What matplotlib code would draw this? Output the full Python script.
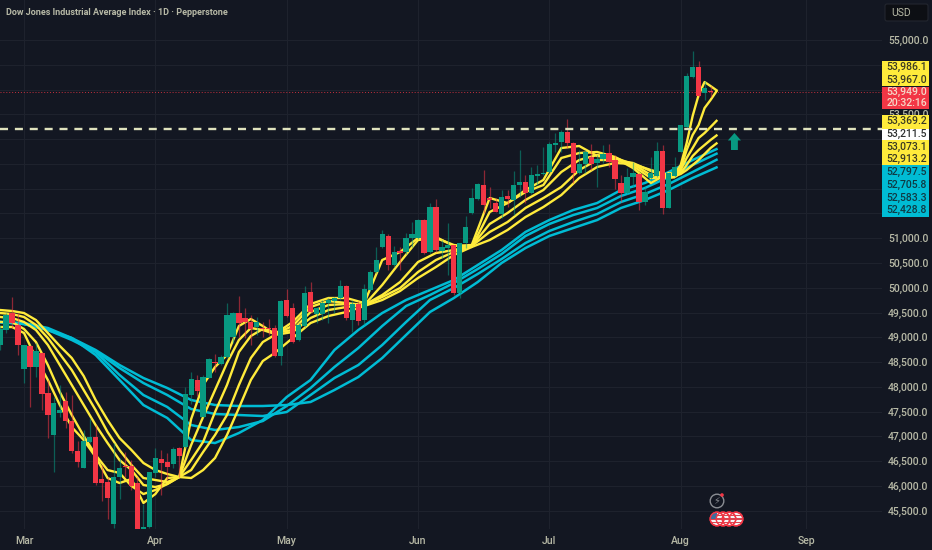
import numpy as np
import matplotlib
matplotlib.use('Agg')
import matplotlib.pyplot as plt
from matplotlib.patches import Circle, Rectangle, FancyBboxPatch

plt.rcParams['font.family'] = ['Roboto', 'DejaVu Sans']

# daily candles, first bar is 4 sessions before 1 March
first_bar = -4
opens = [48845, 49148, 49490, 49250, 48360, 48825, 48400, 48684, 47876, 47029, 47473, 47715, 47311, 46706, 46363, 46888,
         46989, 46141, 46080, 45233, 46181, 46403, 46403, 46060, 45132, 45172, 46262, 46545, 46484, 46444, 46766, 46787,
         47836, 48139, 47392, 48179, 48502, 48461, 48603, 49006, 49490, 49390, 49309, 49208, 49188, 49188, 49188, 48623,
         49753, 49591, 48946, 49229, 49914, 49470, 49470, 49692, 49733, 49793, 50036, 49349, 49672, 49349, 49955, 50318,
         50823, 51045, 50459, 50742, 50722, 51004, 51004, 51367, 50722, 51630, 50742, 50802, 50863, 49894, 50903, 51509,
         51791, 52074, 51811, 51710, 51488, 51852, 51771, 52074, 52134, 51912, 52255, 52296, 52336, 52881, 52941, 53143,
         52921, 52316, 52498, 52639, 52518, 52598, 52719, 52578, 52114, 51912, 52235, 52296, 51730, 52215, 52255, 52760,
         51610, 52255, 52740, 53245, 54253, 54455, 53930, 53971]
highs = [49250, 49490, 49813, 49490, 48845, 48845, 48885, 48704, 48139, 47795, 48038, 47896, 47836, 46908, 47130, 47372,
         47230, 46423, 46181, 46867, 46565, 46686, 46524, 46181, 45636, 46282, 46766, 46726, 46665, 46787, 46787, 47997,
         48300, 48240, 48240, 48582, 48663, 48643, 49692, 49511, 49834, 49591, 49450, 49410, 49309, 49370, 49249, 49753,
         49975, 49692, 49289, 50036, 50116, 49612, 49753, 49793, 49813, 50157, 50056, 49753, 49733, 50076, 50358, 50823,
         51166, 51085, 50843, 50823, 51105, 51327, 51388, 51388, 51710, 51791, 50964, 51307, 50863, 50903, 51448, 52013,
         52114, 52376, 52033, 51811, 51973, 51973, 52356, 52780, 52276, 52437, 52477, 52841, 52941, 53123, 53184, 53406,
         52941, 52780, 52780, 52901, 52679, 52881, 52901, 52679, 52276, 52417, 52538, 52316, 52033, 52639, 52941, 52881,
         52336, 52639, 53285, 54334, 54778, 54576, 54172, 54072]
lows = [48745, 49087, 49188, 48643, 48078, 47594, 48200, 47533, 46968, 46282, 47392, 47170, 46665, 46383, 46363, 46867,
        46020, 45697, 45334, 45152, 45737, 46181, 45919, 45132, 45132, 45152, 46181, 45818, 46121, 46363, 46181, 46766,
        47654, 47816, 47392, 48179, 48300, 48441, 48582, 48885, 49006, 48986, 48845, 49047, 49006, 49047, 48603, 48441,
        49410, 48885, 48926, 49208, 49490, 49289, 49349, 49289, 49490, 49753, 49349, 49107, 49249, 49249, 49935, 50298,
        50802, 50358, 50419, 50358, 50681, 50823, 50984, 50681, 50701, 50722, 50601, 50258, 49854, 49793, 50802, 51488,
        51771, 51509, 51610, 51529, 51408, 51630, 51468, 51832, 51710, 51892, 52074, 52276, 52316, 52740, 52740, 52820,
        52114, 52296, 52316, 52376, 52033, 52518, 52437, 51993, 51730, 51892, 52033, 51569, 51670, 52175, 52235, 51488,
        51610, 52235, 52740, 53224, 54233, 53850, 53789, 53850]
closes = [49170, 49450, 49290, 48845, 48845, 48400, 48724, 47856, 47432, 47674, 47533, 47311, 46706, 46484, 46908, 46989,
          46060, 46060, 45757, 46181, 46363, 46383, 46000, 45132, 45172, 46282, 46565, 46464, 46383, 46746, 46605, 47856,
          48159, 47917, 48200, 48562, 48482, 48603, 49450, 49490, 49290, 49309, 49168, 49309, 49168, 49168, 48623, 49733,
          49430, 48905, 49249, 49894, 49511, 49591, 49692, 49753, 49793, 50036, 49390, 49672, 49329, 49975, 50318, 50560,
          51085, 50459, 50722, 50701, 51004, 51085, 51367, 50701, 51630, 50762, 50823, 50863, 49894, 50903, 51226, 51811,
          52094, 51670, 51771, 51529, 51832, 51791, 52074, 52134, 51912, 52276, 52296, 52316, 52901, 52921, 53143, 52921,
          52316, 52498, 52740, 52498, 52598, 52699, 52538, 52195, 51912, 52235, 52316, 51730, 51932, 52316, 52760, 51610,
          52316, 52437, 53285, 54273, 54455, 53870, 54031, 53950]

# yellow (fast) averages, read at these bars
fast_bars = list(range(-4, 44, 2)) + list(range(45, 108, 3)) + [108, 109, 110, 111, 112, 113, 114, 115, 116]
fast1 = [49208, 49208, 49087, 48583, 48139, 47634, 47190, 46928, 46585, 46161, 46060, 46141, 45657, 45838, 46161, 46181,
         47352, 48038, 48401, 48643, 49228, 49370, 49228, 49067, 49309, 49672, 49793, 49793, 49692, 50560, 50722, 51004,
         51024, 50843, 50863, 51811, 51710, 51973, 52175, 52820, 52861, 52659, 52619, 52417, 52114, 52316, 52296, 52477,
         52921, 53466, 53890, 54152, 54071, 53986]
fast2 = [49309, 49309, 49168, 48905, 48441, 47896, 47432, 47009, 46625, 46322, 46262, 46000, 45838, 45919, 46040, 46181,
         46827, 47392, 47937, 48482, 48946, 49188, 49148, 49067, 49228, 49612, 49733, 49692, 49652, 50056, 50520, 50964,
         51004, 50863, 50823, 51529, 51710, 51932, 52074, 52619, 52719, 52740, 52639, 52457, 52215, 52235, 52235, 52417,
         52780, 53083, 53285, 53628, 53789, 53967]
fast3 = [49410, 49390, 49309, 49148, 48845, 48441, 48038, 47634, 47230, 46867, 46524, 46322, 46020, 45979, 46040, 46181,
         46524, 46888, 47493, 48038, 48704, 49027, 49168, 49087, 49148, 49511, 49652, 49672, 49652, 49854, 50116, 50520,
         50701, 50762, 50843, 51287, 51509, 51771, 51973, 52336, 52578, 52679, 52619, 52498, 52276, 52215, 52235, 52376,
         52619, 52820, 53022, 53123, 53244, 53369]
fast4 = [49490, 49470, 49410, 49249, 48986, 48663, 48340, 47937, 47533, 47089, 46726, 46423, 46161, 46121, 46080, 46181,
         46322, 46686, 47029, 47432, 48038, 48583, 48905, 49047, 49107, 49390, 49551, 49612, 49652, 49813, 49995, 50318,
         50560, 50722, 50843, 51125, 51327, 51610, 51811, 52033, 52376, 52578, 52578, 52518, 52356, 52235, 52235, 52316,
         52477, 52659, 52780, 52881, 52982, 53073]
fast5 = [49551, 49531, 49490, 49349, 49087, 48825, 48583, 48219, 47735, 47331, 46968, 46726, 46464, 46322, 46242, 46181,
         46161, 46322, 46565, 47029, 47574, 48139, 48522, 48684, 48986, 49289, 49430, 49511, 49632, 49753, 49935, 50197,
         50419, 50661, 50823, 50964, 51166, 51428, 51630, 51872, 52215, 52437, 52518, 52498, 52376, 52276, 52255, 52296,
         52376, 52477, 52578, 52699, 52820, 52913]

# cyan (slow) averages
slow_bars = list(range(-4, 117, 4))
slow1 = [49309, 49269, 49148, 48986, 48643, 48139, 47634, 47372, 46928, 46867, 47069, 47331, 47795, 48139, 48744, 49148,
         49490, 49753, 49955, 50157, 50459, 50762, 51126, 51367, 51569, 51710, 51973, 52114, 52336, 52578, 52798]
slow2 = [49309, 49269, 49148, 48946, 48704, 48240, 47836, 47594, 47230, 47130, 47190, 47311, 47614, 47977, 48401, 48784,
         49228, 49632, 49854, 50096, 50379, 50681, 51045, 51287, 51468, 51610, 51852, 52013, 52235, 52477, 52706]
slow3 = [49309, 49269, 49168, 48966, 48724, 48381, 48078, 47836, 47553, 47453, 47432, 47412, 47493, 47836, 48179, 48441,
         48845, 49309, 49753, 49995, 50278, 50580, 50903, 51146, 51327, 51488, 51731, 51892, 52094, 52336, 52583]
slow4 = [49309, 49289, 49188, 48986, 48744, 48441, 48179, 47977, 47735, 47634, 47614, 47614, 47634, 47695, 47937, 48199,
         48582, 49047, 49511, 49793, 50116, 50500, 50802, 51045, 51206, 51367, 51610, 51771, 51973, 52215, 52429]

month_bars = [0, 22, 44, 66, 88, 110, 131]
month_labels = ['Mar', 'Apr', 'May', 'Jun', 'Jul', 'Aug', 'Sep']
price_ticks = list(range(45500, 55500, 500))
# these sit under the price tags in the reference
covered_ticks = [51500, 52000, 52500, 53000, 54000, 54500]
level_price = 53211.5
last_price = 53949.0

# price tags on the right, top to bottom
tag_texts = ['53,986.1', '53,967.0', '53,949.0', '20:32:16', '53,369.2', '53,211.5', '53,073.1', '52,913.2',
             '52,797.5', '52,705.8', '52,583.3', '52,428.8']
tag_kinds = ['fast', 'fast', 'last', 'last', 'fast', 'level', 'fast', 'fast', 'slow', 'slow', 'slow', 'slow']

BG = '#131722'
GRID = '#1e222d'
UP = '#089981'
DOWN = '#f23645'
YELLOW = '#ffeb3b'
CYAN = '#00bcd4'
LABEL = '#b7b9a6'

fig = plt.figure(figsize=(9.32, 5.5), dpi=100, facecolor=BG)
ax = fig.add_axes([0, 21 / 550, 882 / 932, 529 / 550], facecolor=BG)
ax.set_xlim((0 - 24) / 5.97, (882 - 24) / 5.97)
ax.set_ylim(45132, 55807)
for s in ax.spines.values():
    s.set_visible(False)
ax.set_axisbelow(True)
ax.grid(True, color=GRID, lw=0.8)

ax.set_xticks(month_bars, month_labels)
ax.set_yticks(price_ticks, ['' if p in covered_ticks else f'{p:,.1f}' for p in price_ticks])
ax.yaxis.tick_right()
ax.tick_params(axis='x', length=0, pad=5, colors=LABEL, labelsize=7.6)
ax.tick_params(axis='y', length=0, pad=4.3, colors=LABEL, labelsize=7.5)
for t in ax.get_xticklabels() + ax.get_yticklabels():
    t.set_fontweight('medium')

# averages sit under the candles
for line in [slow4, slow3, slow2, slow1]:
    ax.plot(slow_bars, line, color=CYAN, lw=1.8, zorder=2, solid_joinstyle='round')
for line in [fast5, fast4, fast3, fast2, fast1]:
    ax.plot(fast_bars, line, color=YELLOW, lw=1.7, zorder=2.2, solid_joinstyle='round')

bars = np.arange(len(opens)) + first_bar
o = np.array(opens, dtype=float)
c = np.array(closes, dtype=float)
colors = [UP if b >= a else DOWN for a, b in zip(o, c)]
ax.vlines(bars, lows, highs, colors=colors, lw=0.9, alpha=0.55, zorder=3)
ax.bar(bars, np.maximum(np.abs(c - o), 25), bottom=np.minimum(o, c), width=0.88, color=colors, zorder=3.2)

ax.axhline(level_price, color='#dfe2bd', lw=1.7, ls=(0, (3.4, 2.9)), zorder=4)
ax.axhline(last_price, color=DOWN, lw=0.7, ls=(0, (1, 2)), alpha=0.8, zorder=1.5)

# target arrow
ax.arrow(119, 52780, 0, 343, width=1.15, head_width=2.2, head_length=150, length_includes_head=True,
         color=UP, lw=0, zorder=4)

# overlay in pixels for the price tags and the little icons
ov = fig.add_axes([0, 0, 1, 1], facecolor='none', zorder=5)
ov.set_xlim(0, 932)
ov.set_ylim(550, 0)
ov.axis('off')

ov.text(6, 12.5, 'Dow Jones Industrial Average Index · 1D · Pepperstone', color=LABEL, fontsize=6.5,
        fontweight='bold', va='center', ha='left')

ov.add_patch(FancyBboxPatch((885, 4), 43, 17, boxstyle='round,pad=0,rounding_size=2', fc='#0d0f14', ec='#23262f', lw=0.8))
ov.text(891, 12.5, 'USD', color=LABEL, fontsize=7.5, va='center', ha='left')

tag_rows = [67, 79.5, 92, 102.5, 121, 134, 146.5, 159, 172, 184.5, 197.5, 210]
tag_edges = [(61, 86), (61, 86), (87, 109), (87, 109), (115, 129), (129, 140), (140, 165), (140, 165),
             (165, 217), (165, 217), (165, 217), (165, 217)]
tag_bg = {'fast': YELLOW, 'slow': CYAN, 'last': DOWN, 'level': '#ffffff'}
tag_fg = {'fast': '#3a3a22', 'slow': '#0f3a44', 'last': '#f5d9c8', 'level': '#2e3030'}
for text, kind, row, (top, bottom) in zip(tag_texts, tag_kinds, tag_rows, tag_edges):
    ov.add_patch(Rectangle((882, top), 46.5, bottom - top, fc=tag_bg[kind], ec='none'))
    ov.text(927, row, text, color=tag_fg[kind], fontsize=7.5, va='center', ha='right', fontweight='medium')

# lightning event
ov.add_patch(Circle((717, 501), 6.8, fc=BG, ec='#8a8d93', lw=1.0))
ov.text(717, 501, '⚡', color='#8a8d93', fontsize=7, ha='center', va='center', family=['DejaVu Sans'])
ov.add_patch(Circle((722, 495), 1.8, fc=DOWN, ec='none'))

# US flag events, the first one on top
for cx in [736, 729, 723, 717]:
    disc = Circle((cx, 519), 6.8, fc='#f4f4f4', ec=DOWN, lw=1.0, zorder=3)
    ov.add_patch(disc)
    for sy in [514.5, 518, 521.5]:
        stripe = Rectangle((cx - 7, sy), 14, 1.7, fc='#d9454f', ec='none', zorder=3.1)
        ov.add_patch(stripe)
        stripe.set_clip_path(disc)
    if cx == 717:
        canton = Rectangle((cx - 7, 512), 7, 6.5, fc='#3c6e9e', ec='none', zorder=3.2)
        ov.add_patch(canton)
        canton.set_clip_path(disc)
    ov.add_patch(Circle((cx, 519), 6.8, fc='none', ec=DOWN, lw=1.0, zorder=3.3))

fig.savefig('out.png', dpi=100, facecolor=BG)
